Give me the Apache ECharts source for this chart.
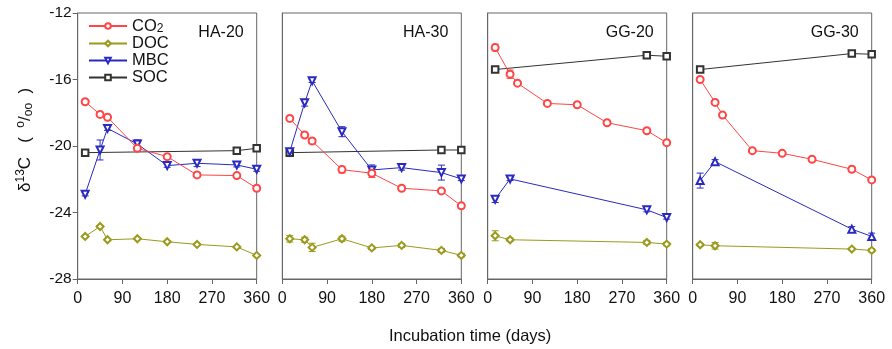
<!DOCTYPE html>
<html>
<head>
<meta charset="utf-8">
<script src="https://cdn.jsdelivr.net/npm/echarts@6/dist/echarts.min.js"></script>
<style>
  html, body { margin: 0; padding: 0; background: #fff; }
  #chart { width: 892px; height: 349px; }
</style>
</head>
<body>
<div id="chart"></div>
<script>
  // panels and sampling days
  var panels = ['HA-20', 'HA-30', 'GG-20', 'GG-30'];
  var daysFull = [15, 45, 60, 120, 180, 240, 320, 360];
  var daysShort = [15, 45, 320, 360];
  var daysSoc = [15, 320, 360];

  // CO2 (all panels, daysFull)
  var co2 = [
    [-17.34, -18.1, -18.27, -20.14, -20.64, -21.74, -21.78, -22.54],
    [-18.34, -19.34, -19.7, -21.42, -21.64, -22.54, -22.7, -23.6],
    [-14.08, -15.68, -16.22, -17.44, -17.52, -18.6, -19.08, -19.8],
    [-16.0, -17.38, -18.14, -20.28, -20.44, -20.8, -21.4, -22.04]
  ];
  var co2Err = [
    [0.12, 0.1, 0.1, 0.15, 0.1, 0.12, 0.1, 0.12],
    [0.12, 0.12, 0.15, 0.2, 0.25, 0.1, 0.1, 0.15],
    [0.2, 0.25, 0.1, 0.1, 0.1, 0.1, 0.1, 0.1],
    [0.1, 0.1, 0.12, 0.1, 0.1, 0.1, 0.1, 0.1]
  ];
  // MBC (HA: daysFull, GG: daysShort)
  var mbc = [
    [-22.9, -20.24, -18.94, -19.88, -21.18, -21.04, -21.14, -21.4],
    [-20.34, -17.4, -16.08, -19.14, -21.44, -21.3, -21.6, -21.98],
    [-23.2, -21.98, -23.84, -24.3],
    [-22.08, -20.94, -25.0, -25.44]
  ];
  var mbcErr = [
    [0.1, 0.6, 0.12, 0.25, 0.1, 0.2, 0.12, 0.12],
    [0.12, 0.2, 0.1, 0.3, 0.3, 0.15, 0.45, 0.1],
    [0.2, 0.1, 0.12, 0.1],
    [0.45, 0.12, 0.15, 0.2]
  ];
  // DOC (HA: daysFull, GG: daysShort)
  var doc = [
    [-25.44, -24.84, -25.64, -25.58, -25.76, -25.92, -26.07, -26.58],
    [-25.58, -25.64, -26.1, -25.58, -26.13, -25.98, -26.28, -26.58],
    [-25.4, -25.64, -25.8, -25.9],
    [-25.94, -26.0, -26.2, -26.28]
  ];
  var docErr = [
    [0.05, 0.05, 0.05, 0.05, 0.05, 0.05, 0.05, 0.05],
    [0.2, 0.15, 0.25, 0.15, 0.1, 0.12, 0.12, 0.1],
    [0.3, 0.1, 0.12, 0.1],
    [0.08, 0.2, 0.05, 0.1]
  ];
  // SOC (daysSoc)
  var soc = [
    [-20.4, -20.28, -20.14],
    [-20.4, -20.24, -20.24],
    [-15.4, -14.54, -14.6],
    [-15.4, -14.44, -14.48]
  ];

  var FONT = 'Liberation Sans, Arial, sans-serif';
  var colors = { CO2: '#ff4545', DOC: '#9a9a1c', MBC: '#2a2ac0', SOC: '#333333' };
  var gridLeft = [77.7, 282.3, 487.7, 692.7];
  var gridW = 179;

  var chart = echarts.init(document.getElementById('chart'));

  function pairs(days, vals) {
    return days.map(function (d, i) { return [d, vals[i]]; });
  }
  function errPairs(days, vals, errs) {
    return days.map(function (d, i) { return [d, vals[i] - errs[i], vals[i] + errs[i]]; });
  }
  function errSeries(idx, days, vals, errs, color) {
    return {
      type: 'custom', name: 'err', xAxisIndex: idx, yAxisIndex: idx, silent: true, z: 3,
      data: errPairs(days, vals, errs),
      renderItem: function (params, api) {
        var lo = api.coord([api.value(0), api.value(1)]);
        var hi = api.coord([api.value(0), api.value(2)]);
        var w = 3.5;
        var st = { stroke: color, lineWidth: 1 };
        return { type: 'group', children: [
          { type: 'line', shape: { x1: lo[0], y1: lo[1], x2: hi[0], y2: hi[1] }, style: st },
          { type: 'line', shape: { x1: lo[0] - w, y1: lo[1], x2: lo[0] + w, y2: lo[1] }, style: st },
          { type: 'line', shape: { x1: hi[0] - w, y1: hi[1], x2: hi[0] + w, y2: hi[1] }, style: st }
        ] };
      }
    };
  }
  function lineSeries(idx, name, data, symbol, rotate, size) {
    return {
      type: 'line', name: name, xAxisIndex: idx, yAxisIndex: idx, data: data,
      symbol: symbol, symbolSize: size || 7, symbolRotate: rotate || 0,
      lineStyle: { color: colors[name], width: 1 },
      itemStyle: { color: colors[name], borderColor: colors[name], borderWidth: 1 },
      z: 4
    };
  }

  var grids = [], xAxes = [], yAxes = [], series = [], titles = [];
  panels.forEach(function (p, i) {
    grids.push({ left: gridLeft[i], top: 13, width: gridW, height: 266, show: true,
      borderColor: '#666', borderWidth: 1, backgroundColor: 'transparent' });
    xAxes.push({ gridIndex: i, type: 'value', min: 0, max: 360, interval: 90,
      axisLine: { lineStyle: { color: '#666' } },
      axisTick: { show: true, length: 5, lineStyle: { color: '#666' } },
      axisLabel: { fontSize: 16, color: '#111', fontFamily: FONT, margin: 12 },
      splitLine: { show: false } });
    yAxes.push({ gridIndex: i, type: 'value', min: -28, max: -12, interval: 4,
      axisLine: { show: true, lineStyle: { color: '#666' } },
      axisTick: { show: i === 0, length: 5, lineStyle: { color: '#666' } },
      axisLabel: { show: i === 0, fontSize: 15.5, color: '#111', fontFamily: FONT, margin: 6 },
      splitLine: { show: false } });
    titles.push({ text: p, right: 892 - (gridLeft[i] + gridW) + 8, top: 20,
      textStyle: { fontSize: 16, fontWeight: 'normal', color: '#111', fontFamily: FONT } });

    var isHA = i < 2;
    var mDays = isHA ? daysFull : daysShort;
    var mbcRot = i === 3 ? 0 : 180;
    series.push(lineSeries(i, 'DOC', pairs(mDays, doc[i]), 'emptyDiamond'));
    series.push(errSeries(i, mDays, doc[i], docErr[i], colors.DOC));
    series.push(lineSeries(i, 'SOC', pairs(daysSoc, soc[i]), 'emptyRect', 0, 6.5));
    series.push(lineSeries(i, 'MBC', pairs(mDays, mbc[i]), 'emptyTriangle', mbcRot));
    series.push(errSeries(i, mDays, mbc[i], mbcErr[i], colors.MBC));
    series.push(lineSeries(i, 'CO2', pairs(daysFull, co2[i]), 'emptyCircle'));
    series.push(errSeries(i, daysFull, co2[i], co2Err[i], colors.CO2));
  });

  chart.setOption({
    animation: false,
    backgroundColor: '#fff',
    title: titles,
    grid: grids,
    xAxis: xAxes,
    yAxis: yAxes,
    legend: {
      data: ['CO2', 'DOC', 'MBC', 'SOC'],
      orient: 'vertical', left: 83, top: 12,
      itemWidth: 38, itemHeight: 7, itemGap: 0,
      formatter: function (n) { return n === 'CO2' ? '{t|CO}{s|2}' : '{t|' + n + '}'; },
      textStyle: {
        fontFamily: FONT, fontSize: 16.5, color: '#111', padding: [0, 0, 0, 0],
        rich: {
          t: { fontSize: 16.5, fontFamily: FONT, color: '#111', lineHeight: 17 },
          s: { fontSize: 12, fontFamily: FONT, color: '#111', lineHeight: 17, padding: [6, 0, 0, 0] }
        }
      }
    },
    graphic: [
      { type: 'text', left: 389, top: 328,
        style: { text: 'Incubation time (days)', fontSize: 16.5, fontFamily: FONT, fill: '#111' } },
      { type: 'text', x: 15, y: 192, rotation: Math.PI / 2,
        style: {
          text: '{d|δ}{sup|13}{d|C   (  }{sup|o}{d|/}{sub|oo}{d|  )}',
          fontFamily: FONT,
          rich: {
            d: { fontSize: 17, fontFamily: FONT, fill: '#111' },
            sup: { fontSize: 12, fontFamily: FONT, fill: '#111', padding: [0, 0, 9, 0] },
            sub: { fontSize: 12, fontFamily: FONT, fill: '#111', padding: [7, 0, 0, 0] }
          }
        } }
    ],
    series: series
  });
</script>
</body>
</html>
